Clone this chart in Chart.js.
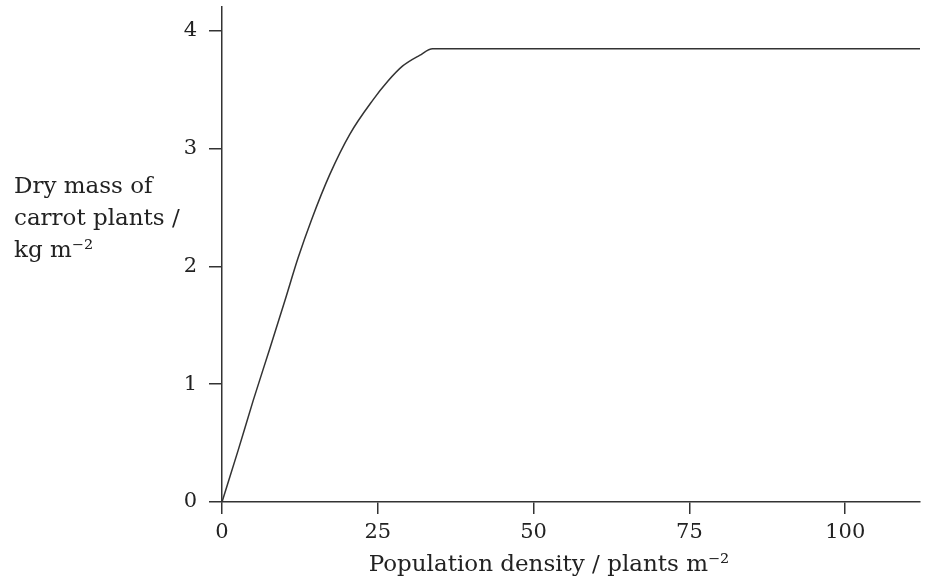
<!DOCTYPE html>
<html>
<head>
<meta charset="utf-8">
<title>Dry mass of carrot plants</title>
<script src="https://cdn.jsdelivr.net/npm/chart.js@4.4.1/dist/chart.umd.min.js"></script>
<style>
  body { margin: 0; background: #fff; }
  #wrap { width: 931px; height: 580px; position: relative; }
</style>
</head>
<body>
<div id="wrap"><canvas id="carrotChart"></canvas></div>
<script>
// values
const density = [0, 2.6, 5.0, 7.6, 10.1, 12.2, 14.4, 17.3, 20.5, 24.2, 26.6, 29.0, 31.7, 33.8, 112];
const dryMass = [0, 0.44, 0.86, 1.29, 1.71, 2.07, 2.40, 2.78, 3.12, 3.41, 3.57, 3.70, 3.79, 3.845, 3.845];
const xTicks = [0, 25, 50, 75, 100];
const yTicks = [0, 1, 2, 3, 4];
const xTitle = 'Population density / plants m\u207B\u00B2';
const yTitleLines = ['Dry mass of', 'carrot plants /', 'kg m\u207B\u00B2'];

const serif = 'DejaVu Serif';
const ink = '#333';

// both axis titles are placed by hand (y one is horizontal, x one is off-centre)
const axisTitles = {
    id: 'axisTitles',
    afterDraw(chart) {
        const c = chart.ctx;
        c.save();
        c.fillStyle = '#222';
        c.font = '23px "' + serif + '"';
        c.textBaseline = 'alphabetic';
        c.textAlign = 'left';
        yTitleLines.forEach((line, i) => c.fillText(line, 14, 193 + i * 32));
        c.textAlign = 'center';
        c.fillText(xTitle, 549, 571);
        c.restore();
    }
};

const ctx = document.getElementById('carrotChart').getContext('2d');
const carrotChart = new Chart(ctx, {
    type: 'scatter',
    data: {
        datasets: [{
            data: density.map((d, i) => ({ x: d, y: dryMass[i] })),
            showLine: true,
            borderColor: ink,
            borderWidth: 1.5,
            pointRadius: 0,
            cubicInterpolationMode: 'monotone'
        }]
    },
    options: {
        responsive: true,
        maintainAspectRatio: false,
        animation: false,
        layout: { padding: { top: 7, right: 11, left: 0, bottom: 0 } },
        scales: {
            x: {
                type: 'linear',
                min: 0,
                max: 112,
                afterFit: s => { s.height = 78; s.paddingLeft = 0; s.paddingRight = 0; },
                afterBuildTicks: s => { s.ticks = xTicks.map(v => ({ value: v })); },
                border: { color: ink, width: 1.5 },
                grid: { drawOnChartArea: false, drawTicks: true, tickLength: 12, color: ink, lineWidth: 1.5 },
                ticks: {
                    padding: 6,
                    color: '#222',
                    maxRotation: 0,
                    autoSkip: false,
                    font: { family: serif, size: 21 }
                }
            },
            y: {
                min: 0,
                max: 4.2,
                afterFit: s => { s.width = 222; s.paddingTop = 0; s.paddingBottom = 0; },
                afterBuildTicks: s => { s.ticks = yTicks.map(v => ({ value: v })); },
                border: { color: ink, width: 1.5 },
                grid: { drawOnChartArea: false, drawTicks: true, tickLength: 13, color: ink, lineWidth: 1.5 },
                ticks: {
                    padding: 12,
                    color: '#222',
                    font: { family: serif, size: 21 }
                }
            }
        },
        plugins: {
            legend: { display: false },
            tooltip: { enabled: false }
        }
    },
    plugins: [axisTitles]
});
</script>
</body>
</html>
